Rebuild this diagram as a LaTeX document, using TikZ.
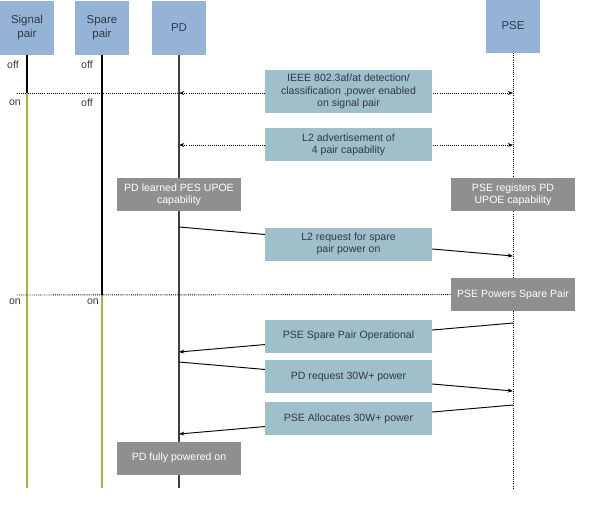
\documentclass[tikz,border=0pt]{standalone}
\usepackage{fontspec}
\setmainfont{Liberation Sans}
\usepackage{xcolor}
\usetikzlibrary{arrows.meta,positioning,calc}

\definecolor{hdrblue}{HTML}{95B3D7}
\definecolor{msgteal}{HTML}{9FBFCB}
\definecolor{stategray}{HTML}{8F8F8F}
\definecolor{pairgreen}{HTML}{9BBB3A}
\definecolor{txtdark}{HTML}{2F3A44}

\begin{document}
\begin{tikzpicture}[x=0.03cm, y=-0.03cm,
    hdr/.style={fill=hdrblue, minimum width=1.6cm, minimum height=1.62cm, font=\fontsize{9.8}{11.5}\selectfont, text=txtdark, align=center},
    msg/.style={fill=msgteal, minimum width=5.01cm, minimum height=0.99cm, font=\fontsize{9}{10.5}\selectfont, text=txtdark, align=center},
    state/.style={fill=stategray, minimum width=3.72cm, minimum height=0.99cm, font=\fontsize{9}{10.5}\selectfont, text=white, align=center},
    lbl/.style={font=\fontsize{9}{10.5}\selectfont, text=txtdark},
    life/.style={line width=1.6pt},
    dotline/.style={densely dotted, line width=0.8pt},
    dotarr/.style={densely dotted, line width=0.8pt, {Stealth[length=1.6mm,width=1.2mm]}-{Stealth[length=1.6mm,width=1.2mm]}},
    arr/.style={-{Stealth[length=1.6mm,width=1.2mm]}, line width=0.8pt}
]
\useasboundingbox (0,0) rectangle (595,521);

% header boxes
\node[hdr] (sig) at (27,27.5) {Signal\\pair};
\node[hdr] (spare) at (102,27.5) {Spare\\pair};
\node[hdr] (pd) at (179,27.5) {PD};
\node[hdr] (pse) at (513,26) {PSE};

% lifelines
\coordinate (sig-on) at (27,93);
\coordinate (sig-end) at (27,488);
\coordinate (spare-on) at (102,295);
\coordinate (spare-end) at (102,488);
\coordinate (pd-end) at (179,488);
\coordinate (pse-end) at (513,488);
\draw[life] (sig.south) -- (sig-on);
\draw[life, pairgreen] (sig-on) -- (sig-end);
\draw[life] (spare.south) -- (spare-on);
\draw[life, pairgreen] (spare-on) -- (spare-end);
\draw[line width=1.1pt, black!75] (pd.south) -- (pd-end);
\draw[dotline] (pse.south) -- (pse-end);

% signal pair power up
\coordinate (left1) at (17,93);
\coordinate (pd-m1) at (179,93);
\coordinate (pse-m1) at (513,93);
\draw[dotline] (left1) -- (pd-m1);
\draw[dotarr] (pd-m1) -- (pse-m1);
\node[msg, minimum height=1.29cm] (detect) at (348.5,91.5) {IEEE 802.3af/at detection/\\classification ,power enabled\\on signal pair};

\coordinate (pd-m2) at (179,145);
\coordinate (pse-m2) at (513,145);
\draw[dotarr] (pd-m2) -- (pse-m2);
\node[msg] (adv) at (348.5,144.5) {L2 advertisement of\\4 pair capability};

\node[state] (pdlearn) at (179,194.5) {PD learned PES UPOE\\capability};
\node[state] (psereg) at (513,194.5) {PSE registers PD\\UPOE capability};

% spare pair request
\coordinate (pd-m3) at (179,227);
\coordinate (pse-m3) at (513,256);
\draw[arr] (pd-m3) -- (pse-m3);
\node[msg] (req) at (348.5,244) {L2 request for spare\\pair power on};

\node[state] (psepow) at (513,294.5) {PSE Powers Spare Pair};
\coordinate (left2) at (17,295);
\draw[dotline] (left2) -- (psepow.west);

\coordinate (pse-m4) at (513,323);
\coordinate (pd-m4) at (179,352);
\draw[arr] (pse-m4) -- (pd-m4);
\node[msg] (oper) at (348.5,336) {PSE Spare Pair Operational};

\coordinate (pd-m5) at (179,362);
\coordinate (pse-m5) at (513,391);
\draw[arr] (pd-m5) -- (pse-m5);
\node[msg] (pdreq) at (348.5,376.5) {PD request 30W+ power};

\coordinate (pse-m6) at (513,405);
\coordinate (pd-m6) at (179,434);
\draw[arr] (pse-m6) -- (pd-m6);
\node[msg] (alloc) at (348.5,418.5) {PSE Allocates 30W+ power};

\node[state] (pdfull) at (179,458) {PD fully powered on};

% pair states
\node[lbl] (sig-s1) at (13,65) {off};
\node[lbl] (spare-s1) at (87,65) {off};
\node[lbl] (sig-s2) at (15,103) {on};
\node[lbl] (spare-s2) at (87,103) {off};
\node[lbl] (sig-s3) at (15,302) {on};
\node[lbl] (spare-s3) at (93,302) {on};
\end{tikzpicture}
\end{document}
